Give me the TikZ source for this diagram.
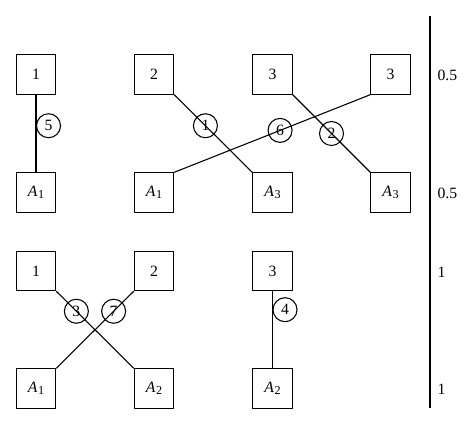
\documentclass[tikz,border=0pt]{standalone}
\usepackage{fontspec}
\setmainfont{Liberation Serif}
\newcommand{\Asub}[1]{\textit{A}\kern0.5pt\raisebox{-0.25ex}{\fontsize{8.5}{9}\selectfont #1}}
\begin{document}
\begin{tikzpicture}[x=0.7pt, y=-0.7pt, line width=0.75pt, line join=round,
  box/.style={draw, minimum size=27.5pt, inner sep=0pt, font=\fontsize{11}{13}\selectfont},
  num/.style={draw, circle, minimum size=16.8pt, inner sep=0pt, font=\fontsize{11}{13}\selectfont},
  val/.style={anchor=west, inner sep=0pt, font=\fontsize{11}{13}\selectfont}]
  \useasboundingbox (0,0) rectangle (474,425);
  % obere Reihe
  \node[box] (t1) at (36,74.5) {1};
  \node[box] (t2) at (154,74.5) {2};
  \node[box] (t3) at (272.5,74.5) {3};
  \node[box] (t4) at (390.5,74.5) {3};
  \node[box] (b1) at (36,192.5) {\Asub{1}};
  \node[box] (b2) at (154,192.5) {\Asub{1}};
  \node[box] (b3) at (272.5,192.5) {\Asub{3}};
  \node[box] (b4) at (390.5,192.5) {\Asub{3}};
  % untere Reihe
  \node[box] (u1) at (36,271) {1};
  \node[box] (u2) at (154,271) {2};
  \node[box] (u3) at (272.5,271) {3};
  \node[box] (v1) at (36,388.5) {\Asub{1}};
  \node[box] (v2) at (154,388.5) {\Asub{2}};
  \node[box] (v3) at (272.5,388.5) {\Asub{2}};
  % Verbindungen mit Nummern
  \draw (t1.south) -- node[num, pos=0.4, anchor=west] {5} (b1.north);
  \draw (t2.south east) -- node[num, pos=0.4] {1} (b3.north west);
  \draw (b2.north east) -- node[num, pos=0.54] {6} (t4.south west);
  \draw (t3.south east) -- node[num, pos=0.5] {2} (b4.north west);
  \draw (u1.south east) -- node[num, pos=0.26] {3} (v2.north west);
  \draw (u2.south west) -- node[num, pos=0.26] {7} (v1.north east);
  \draw (u3.south) -- node[num, pos=0.24, anchor=west] {4} (v3.north);
  % Skala rechts
  \coordinate (axtop) at (430,16);
  \coordinate (axbot) at (430,408);
  \draw (axtop) -- (axbot);
  \node[val] (w1) at (437,75) {0.5};
  \node[val] (w2) at (437,193) {0.5};
  \node[val] (w3) at (437,272) {1};
  \node[val] (w4) at (437,389) {1};
\end{tikzpicture}
\end{document}
